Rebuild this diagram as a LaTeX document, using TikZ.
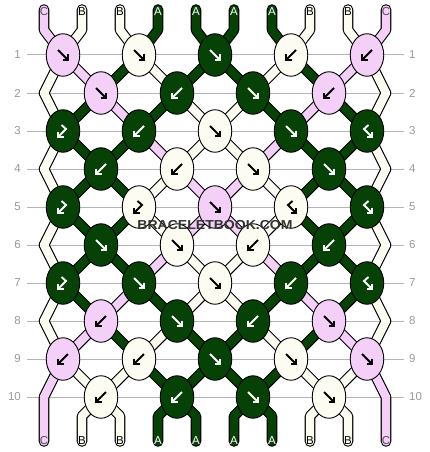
\documentclass[tikz,border=0pt]{standalone}
\usepackage{fontspec}
\setmainfont{Liberation Sans}
\usetikzlibrary{shapes.geometric}
\definecolor{cA}{HTML}{064206}
\definecolor{cB}{HTML}{FCFCF3}
\definecolor{cC}{HTML}{F4D0F8}
\colorlet{arrA}{white}
\colorlet{arrB}{black}
\colorlet{arrC}{black}
\colorlet{lblA}{white}
\colorlet{lblB}{black}
\definecolor{lblC}{HTML}{5A4A5A}
\definecolor{gridc}{HTML}{B4B4B4}
\definecolor{numc}{HTML}{999999}
\definecolor{wm}{HTML}{333333}
\pgfdeclarelayer{grid}
\pgfdeclarelayer{strings}
\pgfsetlayers{grid,strings,main}
\tikzset{
  knot/.style={ellipse, draw=black, line width=0.9pt, minimum width=33.5pt, minimum height=42.5pt, inner sep=0pt},
  str/.style={draw=black, line width=1.1pt, double=#1, double distance=8.4pt, line join=round},
  tube/.style={str=#1, line cap=round},
  arrstroke/.style={line width=1.9pt, line join=miter, line cap=butt},
  lbl/.style={font=\fontsize{11.5}{11.5}\selectfont, inner sep=0pt},
  num/.style={font=\fontsize{11.5}{11.5}\selectfont, text=numc, inner sep=0pt},
  gridline/.style={draw=gridc, line width=1pt},
  wmk/.style={font=\bfseries\fontsize{13}{13}\selectfont, inner sep=0pt},
  pics/arrF/.style={code={\draw[arrstroke] (-5,-5)--(4.3,4.3); \draw[arrstroke] (5,-0.5)--(5,5)--(-0.5,5);}},
  pics/arrB/.style={code={\draw[arrstroke] (5,-5)--(-4.3,4.3); \draw[arrstroke] (-5,-0.5)--(-5,5)--(0.5,5);}},
  pics/arrBF/.style={code={\draw[arrstroke] (-1.5,-6)--(3,-2)--(-4.3,5.3); \draw[arrstroke] (-5,0.5)--(-5,6)--(0.5,6);}},
  pics/arrFB/.style={code={\draw[arrstroke] (1.5,-6)--(-3,-2)--(4.3,5.3); \draw[arrstroke] (5,0.5)--(5,6)--(-0.5,6);}},
}
\newcommand\knotrow[2]{%
  \foreach \kc/\kt [count=\j] in {#2} {%
    \ifodd#1\relax\pgfmathsetmacro\kx{63+76*(\j-1)}\else\pgfmathsetmacro\kx{101+76*(\j-1)}\fi
    \pgfmathsetmacro\ky{55+38*(#1-1)}%
    \node[knot, fill=c\kc] (k-#1-\j) at (\kx,\ky) {};
    \pic[color=arr\kc] at (k-#1-\j.center) {arr\kt};
  }%
}
\newcommand\segrow[2]{%
  \pgfmathtruncatemacro\rn{#1+1}%
  \foreach \sc [count=\i] in {#2} {%
    \ifodd#1\relax
      \pgfmathtruncatemacro\js{int(\i/2)+1}\pgfmathtruncatemacro\jt{int((\i-1)/2)+1}%
    \else
      \pgfmathtruncatemacro\js{int((\i-1)/2)+1}\pgfmathtruncatemacro\jt{int(\i/2)+1}%
    \fi
    \draw[str=c\sc] (k-#1-\js.center) -- (k-\rn-\jt.center);
  }%
}
\begin{document}
\begin{tikzpicture}[x=1pt,y=-1pt]
\useasboundingbox (0,0) rectangle (430,452);
% knots
\knotrow{1}{C/F,B/F,A/F,B/B,C/B}
\knotrow{2}{C/F,A/B,A/F,C/B}
\knotrow{3}{A/BF,A/B,B/F,A/F,A/FB}
\knotrow{4}{A/B,B/B,B/F,A/F}
\knotrow{5}{A/BF,B/BF,C/F,B/FB,A/FB}
\knotrow{6}{A/F,B/F,B/B,A/B}
\knotrow{7}{A/BF,A/F,B/F,A/B,A/FB}
\knotrow{8}{C/B,A/F,A/B,C/F}
\knotrow{9}{C/B,B/B,A/F,B/F,C/F}
\knotrow{10}{B/B,A/B,A/F,B/F}
% background, grid and numbers
\begin{pgfonlayer}{grid}
\fill[white] (0,0) rectangle (430,452);
\foreach \r in {1,...,10} {
  \pgfmathsetmacro\gy{55+38*(\r-1)}
  \coordinate (gl-\r) at (27,\gy);
  \coordinate (gr-\r) at (404,\gy);
  \draw[gridline] (gl-\r) -- (gr-\r);
  \node[num, anchor=east] (nl-\r) at (21,\gy) {\r};
  \node[num, anchor=west] (nr-\r) at (409,\gy) {\r};
}
\end{pgfonlayer}
% strings
\begin{pgfonlayer}{strings}
\segrow{1}{C,A,B,A,A,B,A,C}
\segrow{2}{A,C,A,B,B,A,C,A}
\segrow{3}{A,A,C,B,B,C,A,A}
\segrow{4}{A,A,B,C,C,B,A,A}
\segrow{5}{A,A,B,C,C,B,A,A}
\segrow{6}{A,A,C,B,B,C,A,A}
\segrow{7}{A,C,A,B,B,A,C,A}
\segrow{8}{C,A,B,A,A,B,A,C}
\segrow{9}{B,B,A,A,A,A,B,B}
\foreach \r/\m in {1/2,3/4,5/6,7/8} {
  \pgfmathtruncatemacro\rr{\r+2}
  \pgfmathsetmacro\zy{55+38*(\m-1)}
  \coordinate (zl-\m) at (44,\zy);
  \coordinate (zr-\m) at (386,\zy);
  \draw[str=cB] (k-\r-1.center) -- (zl-\m) -- (k-\rr-1.center);
  \draw[str=cB] (k-\r-5.center) -- (zr-\m) -- (k-\rr-5.center);
}
\foreach \sc [count=\i from 0] in {C,B,B,A,A,A,A,B,B,C} {
  \pgfmathsetmacro\tx{44+38*\i}
  \pgfmathtruncatemacro\j{int(\i/2)+1}
  \coordinate (tb-\i) at (\tx,30);
  \coordinate (tt-\i) at (\tx,9.5);
  \draw[tube=c\sc] (k-1-\j.center) -- (tb-\i) -- (tt-\i);
  \node[lbl, text=lbl\sc] (lt-\i) at (\tx,12) {\sc};
}
\foreach \sc [count=\i from 0] in {C,B,B,A,A,A,A,B,B,C} {
  \pgfmathsetmacro\tx{44+38*\i}
  \ifnum\i=0 \def\src{k-9-1}\def\by{397}\else\ifnum\i=9 \def\src{k-9-5}\def\by{397}\else
    \pgfmathtruncatemacro\j{int((\i-1)/2)+1}\edef\src{k-10-\j}\def\by{416}\fi\fi
  \coordinate (bb-\i) at (\tx,\by);
  \coordinate (be-\i) at (\tx,441.5);
  \draw[tube=c\sc] (\src.center) -- (bb-\i) -- (be-\i);
  \node[lbl, text=lbl\sc] (lb-\i) at (\tx,441) {\sc};
}
\end{pgfonlayer}
% watermark
\node[wmk, text=wm] (wmark) at (215,225) {\scalebox{1.08}[1]{BRACELETBOOK.COM}};
\end{tikzpicture}
\end{document}
